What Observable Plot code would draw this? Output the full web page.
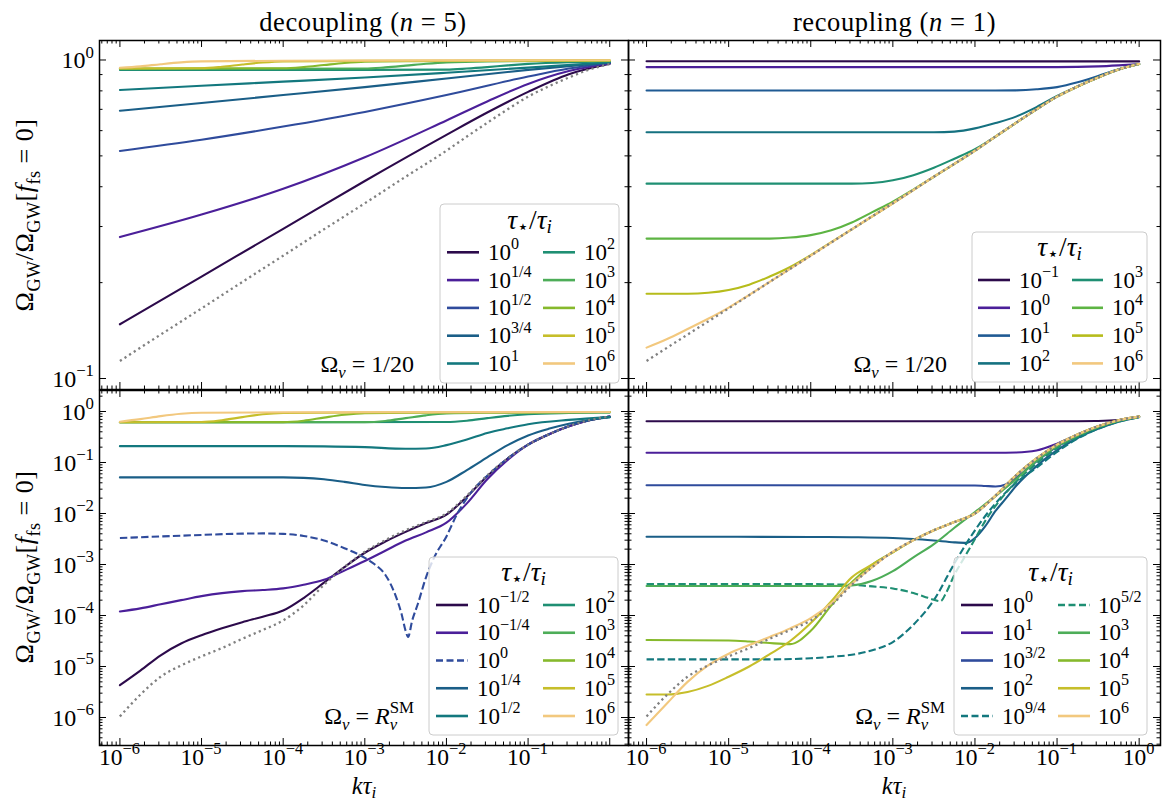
<!DOCTYPE html>
<html>
<head>
<meta charset="utf-8">
<script src="https://cdn.jsdelivr.net/npm/d3@7"></script>
<script src="https://cdn.jsdelivr.net/npm/@observablehq/plot@0.6"></script>
<style>
html, body { margin:0; padding:0; background:#fff; overflow:hidden; }
#wrap { position:relative; width:1163px; height:803px; background:#fff; }
#wrap > svg { position:absolute; left:0; top:0; }
</style>
</head>
<body>
<div id="wrap"></div>
<script>
// ================= DATA =================
// k tau_i  ->  Omega_GW / Omega_GW[f_fs = 0]
// ---- top row (Omega_nu = 1/20), dotted reference curve
const TOP_ref = [[1e-6,0.1135],[3.16e-6,0.1374],[1e-5,0.166],[3.16e-5,0.201],[1e-4,0.243],[3.16e-4,0.294],[1e-3,0.355],[3.16e-3,0.430],[1e-2,0.519],[1.78e-2,0.575],[3.16e-2,0.635],[5.62e-2,0.700],[0.1,0.767],[0.178,0.826],[0.316,0.881],[0.562,0.933],[1,0.971]];
// ---- top-left: decoupling
const TL_tau = ["0","1/4","1/2","3/4","1","2","3","4","5","6"];
const TL_0 = [[1e-6,0.148],[1e-5,0.209],[1e-4,0.295],[1e-3,0.417],[1e-2,0.582],[3.16e-2,0.684],[0.1,0.794],[0.316,0.902],[1,0.973]];
const TL_1 = [[1e-6,0.278],[1e-5,0.327],[1e-4,0.394],[1e-3,0.495],[1e-2,0.646],[3.16e-2,0.741],[0.1,0.841],[0.316,0.923],[1,0.975]];
const TL_2 = [[1e-6,0.518],[1e-5,0.562],[1e-4,0.618],[1e-3,0.687],[1e-2,0.776],[0.1,0.887],[0.316,0.940],[1,0.979]];
const TL_3 = [[1e-6,0.693],[1e-5,0.733],[1e-4,0.776],[1e-3,0.822],[1e-2,0.875],[0.1,0.931],[1,0.982]];
const TL_4 = [[1e-6,0.805],[1e-5,0.830],[1e-4,0.855],[1e-3,0.881],[1e-2,0.912],[0.1,0.946],[1,0.984]];
const TL_5 = [[1e-6,0.930],[1e-3,0.931],[1e-2,0.933],[1.78e-2,0.940],[3.16e-2,0.950],[5.62e-2,0.962],[0.1,0.972],[0.316,0.984],[1,0.990]];
const TL_6 = [[1e-6,0.937],[1e-3,0.940],[1.78e-3,0.948],[3.16e-3,0.960],[5.62e-3,0.973],[1e-2,0.983],[3.16e-2,0.990],[1,0.994]];
const TL_7 = [[1e-6,0.940],[1e-4,0.942],[1.78e-4,0.950],[3.16e-4,0.964],[5.62e-4,0.978],[1e-3,0.987],[3.16e-3,0.991],[1,0.995]];
const TL_8 = [[1e-6,0.940],[1e-5,0.942],[1.78e-5,0.952],[3.16e-5,0.968],[5.62e-5,0.982],[1e-4,0.990],[1e-3,0.994],[1,0.997]];
const TL_9 = [[1e-6,0.945],[1.78e-6,0.955],[3.16e-6,0.970],[5.62e-6,0.983],[1e-5,0.990],[1e-4,0.995],[1e-2,0.997],[1,0.998]];
// ---- top-right: recoupling
const TR_tau = ["-1","0","1","2","3","4","5","6"];
const TR_0 = [[1e-6,0.991],[1,0.990]];
const TR_1 = [[1e-6,0.950],[0.1,0.950],[0.316,0.955],[0.562,0.962],[1,0.971]];
const TR_2 = [[1e-6,0.802],[1.78e-2,0.802],[3.16e-2,0.803],[5.62e-2,0.809],[0.1,0.822],[0.178,0.851],[0.316,0.891],[0.562,0.935],[1,0.971]];
const TR_3 = [[1e-6,0.593],[3.16e-3,0.593],[5.62e-3,0.596],[1e-2,0.610],[1.78e-2,0.634],[3.16e-2,0.664],[5.62e-2,0.711],[0.1,0.771]];
const TR_4 = [[1e-6,0.409],[3.16e-4,0.409],[5.62e-4,0.411],[1e-3,0.419],[1.78e-3,0.435],[3.16e-3,0.459],[5.62e-3,0.490],[1e-2,0.525]];
const TR_5 = [[1e-6,0.275],[3.16e-5,0.275],[5.62e-5,0.277],[1e-4,0.282],[1.78e-4,0.292],[3.16e-4,0.309],[5.62e-4,0.333],[1e-3,0.359],[1.78e-3,0.392]];
const TR_6 = [[1e-6,0.1845],[3.16e-6,0.1845],[5.62e-6,0.1858],[1e-5,0.1897],[1.78e-5,0.197],[3.16e-5,0.209],[5.62e-5,0.224],[1e-4,0.244],[1.78e-4,0.268]];
const TR_7 = [[1e-6,0.125],[1.78e-6,0.133],[3.16e-6,0.143],[5.62e-6,0.154],[1e-5,0.167],[1.78e-5,0.183]];
// ---- bottom row (Omega_nu = R_nu^SM), dotted reference curve
const BOT_ref = [[1e-6,1.05e-6],[1.78e-6,2.8e-6],[3.16e-6,6.3e-6],[5.62e-6,1.05e-5],[1e-5,1.58e-5],[1.78e-5,2.3e-5],[3.16e-5,3.5e-5],[5.62e-5,5.2e-5],[1e-4,8.0e-5],[1.78e-4,1.58e-4],[3.16e-4,3.98e-4],[5.62e-4,8.9e-4],[1e-3,1.78e-3],[1.78e-3,3.0e-3],[3.16e-3,4.7e-3],[5.62e-3,6.8e-3],[1e-2,1.0e-2],[1.78e-2,2.24e-2],[3.16e-2,5.6e-2],[5.62e-2,0.12],[0.1,0.224],[0.178,0.355],[0.316,0.513],[0.562,0.676],[1,0.794]];
// ---- bottom-left: decoupling
const BL_tau = ["-1/2","-1/4","0","1/4","1/2","2","3","4","5","6"];
const BL_0 = [[1e-6,4.3e-6],[1.78e-6,8.3e-6],[3.16e-6,1.66e-5],[5.62e-6,2.82e-5],[1e-5,4.1e-5],[1.78e-5,5.6e-5],[3.16e-5,7.4e-5],[5.62e-5,9.5e-5],[1e-4,1.25e-4],[1.78e-4,2.2e-4],[3.16e-4,4.4e-4],[5.62e-4,8.9e-4],[1e-3,1.7e-3],[1.78e-3,2.82e-3],[3.16e-3,4.37e-3],[5.62e-3,6.5e-3],[1e-2,9.5e-3],[1.78e-2,2.14e-2],[3.16e-2,5.4e-2]];
const BL_1 = [[1e-6,1.2e-4],[1.78e-6,1.38e-4],[3.16e-6,1.66e-4],[5.62e-6,2.0e-4],[1e-5,2.4e-4],[1.78e-5,2.75e-4],[3.16e-5,3.0e-4],[5.62e-5,3.16e-4],[1e-4,3.4e-4],[1.78e-4,4.0e-4],[3.16e-4,5.0e-4],[5.62e-4,7.6e-4],[1e-3,1.17e-3],[1.78e-3,1.86e-3],[3.16e-3,2.95e-3],[5.62e-3,4.27e-3],[1e-2,6.6e-3],[1.78e-2,1.58e-2],[3.16e-2,4.7e-2],[5.62e-2,0.112]];
const BL_2 = [[1e-6,3.31e-3],[3.16e-6,3.55e-3],[1e-5,3.8e-3],[3.16e-5,4.03e-3],[5.62e-5,4.07e-3],[1e-4,3.98e-3],[1.78e-4,3.63e-3],[3.16e-4,2.95e-3],[5.62e-4,2.09e-3],[1e-3,1.35e-3],[1.33e-3,1.0e-3],[1.78e-3,6.3e-4],[2.37e-3,2.5e-4],[2.82e-3,1.07e-4],[3.16e-3,5.0e-5],[3.39e-3,3.8e-5],[3.8e-3,7.9e-5],[4.47e-3,1.7e-4],[5.62e-3,5.6e-4],[7.08e-3,1.38e-3],[1e-2,3.55e-3],[1.33e-2,9.3e-3],[1.78e-2,2.0e-2],[2.37e-2,3.55e-2],[3.16e-2,5.5e-2]];
const BL_3 = [[1e-6,5.1e-2],[1e-4,5.1e-2],[1.78e-4,5.0e-2],[3.16e-4,4.68e-2],[5.62e-4,4.17e-2],[1e-3,3.63e-2],[1.78e-3,3.31e-2],[3.16e-3,3.16e-2],[5.62e-3,3.24e-2],[1e-2,4.17e-2],[1.78e-2,7.1e-2],[3.16e-2,0.126],[5.62e-2,0.219],[0.1,0.339],[0.178,0.457],[0.316,0.575],[0.562,0.684],[1,0.776]];
const BL_4 = [[1e-6,0.209],[1e-4,0.209],[3.16e-4,0.207],[1e-3,0.200],[3.16e-3,0.186],[5.62e-3,0.188],[1e-2,0.219],[1.78e-2,0.282],[3.16e-2,0.380],[5.62e-2,0.468],[0.1,0.562],[0.316,0.684],[1,0.776]];
const BL_5 = [[1e-6,0.617],[1e-2,0.624],[1.78e-2,0.661],[3.16e-2,0.741],[5.62e-2,0.822],[0.1,0.881],[0.316,0.933],[1,0.959]];
const BL_6 = [[1e-6,0.617],[1e-3,0.619],[1.78e-3,0.653],[3.16e-3,0.741],[5.62e-3,0.841],[1e-2,0.912],[3.16e-2,0.944],[1,0.968]];
const BL_7 = [[1e-6,0.617],[1e-4,0.619],[1.78e-4,0.661],[3.16e-4,0.759],[5.62e-4,0.861],[1e-3,0.923],[1e-2,0.955],[1,0.973]];
const BL_8 = [[1e-6,0.617],[1e-5,0.624],[1.78e-5,0.676],[3.16e-5,0.776],[5.62e-5,0.881],[1e-4,0.933],[1e-3,0.959],[1,0.977]];
const BL_9 = [[1e-6,0.631],[1.78e-6,0.708],[3.16e-6,0.813],[5.62e-6,0.902],[1e-5,0.944],[1e-4,0.966],[1,0.977]];
// ---- bottom-right: recoupling
const BR_tau = ["0","1","3/2","2","9/4","5/2","3","4","5","6"];
const BR_0 = [[1e-6,0.646],[0.178,0.646],[0.316,0.651],[0.562,0.680],[1,0.790]];
const BR_1 = [[1e-6,0.155],[1.78e-2,0.155],[3.16e-2,0.157],[5.62e-2,0.172],[0.1,0.234],[0.178,0.355],[0.316,0.513],[0.562,0.676],[1,0.794]];
const BR_2 = [[1e-6,3.59e-2],[1e-2,3.55e-2],[1.33e-2,3.47e-2],[1.78e-2,3.39e-2],[2.37e-2,3.72e-2],[3.16e-2,5.0e-2],[5.62e-2,0.105],[0.1,0.204],[0.178,0.331],[0.316,0.490],[0.562,0.661],[1,0.785]];
const BR_3 = [[1e-6,3.51e-3],[1e-4,3.47e-3],[3.16e-4,3.43e-3],[1e-3,3.31e-3],[1.78e-3,3.16e-3],[3.16e-3,2.95e-3],[5.62e-3,2.72e-3],[7.94e-3,2.66e-3],[1e-2,3.3e-3],[1.33e-2,5.6e-3],[1.78e-2,1.12e-2],[2.37e-2,1.95e-2],[3.16e-2,3.47e-2],[5.62e-2,8.5e-2],[0.1,0.174],[0.178,0.302],[0.316,0.457],[0.562,0.631],[1,0.775]];
const BR_4 = [[1e-6,1.38e-5],[3.16e-5,1.38e-5],[1e-4,1.45e-5],[1.78e-4,1.55e-5],[3.16e-4,1.7e-5],[5.62e-4,2.09e-5],[1e-3,3.02e-5],[1.78e-3,6.6e-5],[3.16e-3,2.0e-4],[5.62e-3,1.05e-3],[1e-2,4.68e-3],[1.78e-2,1.58e-2],[3.16e-2,3.98e-2],[5.62e-2,7.9e-2],[0.1,0.162],[0.178,0.295],[0.316,0.457],[0.562,0.631],[1,0.775]];
const BR_5 = [[1e-6,4.12e-4],[1e-4,4.12e-4],[3.16e-4,3.98e-4],[5.62e-4,3.72e-4],[1e-3,3.39e-4],[1.78e-3,2.75e-4],[2.51e-3,2.29e-4],[3.16e-3,2.04e-4],[3.8e-3,1.91e-4],[4.47e-3,2.82e-4],[5.62e-3,6.3e-4],[7.5e-3,1.41e-3],[1e-2,3.16e-3],[1.33e-2,7.1e-3],[1.78e-2,1.41e-2],[2.37e-2,2.51e-2],[3.16e-2,4.17e-2],[5.62e-2,9.5e-2],[0.1,0.191],[0.178,0.316],[0.316,0.479],[0.562,0.646],[1,0.780]];
const BR_6 = [[1e-6,3.8e-4],[1.78e-4,3.8e-4],[3.16e-4,3.89e-4],[5.62e-4,4.79e-4],[1e-3,7.4e-4],[1.78e-3,1.38e-3],[3.16e-3,2.51e-3],[5.62e-3,5.25e-3],[1e-2,1.07e-2],[1.78e-2,2.19e-2],[3.16e-2,4.68e-2],[5.62e-2,0.107],[0.1,0.209],[0.178,0.339],[0.316,0.495],[0.562,0.661],[1,0.785]];
const BR_7 = [[1e-6,3.31e-5],[1e-5,3.24e-5],[1.78e-5,3.09e-5],[3.16e-5,2.88e-5],[5.62e-5,2.75e-5],[1e-4,5.0e-5],[1.78e-4,1.58e-4],[3.16e-4,4.47e-4],[5.62e-4,1.0e-3],[1e-3,1.74e-3]];
const BR_8 = [[1e-6,2.82e-6],[1.78e-6,2.82e-6],[3.16e-6,3.16e-6],[5.62e-6,4.17e-6],[1e-5,6.3e-6],[1.78e-5,1.0e-5],[3.16e-5,1.74e-5],[5.62e-5,3.16e-5],[1e-4,7.1e-5],[1.78e-4,1.9e-4],[3.16e-4,5.6e-4],[5.62e-4,1.0e-3],[1e-3,1.74e-3]];
const BR_9 = [[1e-6,7.1e-7],[1.78e-6,1.9e-6],[3.16e-6,5.0e-6],[5.62e-6,1.05e-5],[1e-5,1.78e-5],[1.78e-5,2.63e-5],[3.16e-5,3.8e-5],[5.62e-5,5.6e-5],[1e-4,8.9e-5],[1.78e-4,1.74e-4],[3.16e-4,4.17e-4]];

// curves that join the dotted reference continue along it
const tail = (ref, k) => ref.filter(d => d[0] >= k * 0.999);
const TL_pts = [TL_0,TL_1,TL_2,TL_3,TL_4,TL_5,TL_6,TL_7,TL_8,TL_9];
const TR_pts = [TR_0,TR_1,TR_2,
  TR_3.concat(tail(TOP_ref,0.178)), TR_4.concat(tail(TOP_ref,1.78e-2)),
  TR_5.concat(tail(TOP_ref,3.16e-3)), TR_6.concat(tail(TOP_ref,3.16e-4)),
  TR_7.concat(tail(TOP_ref,3.16e-5))];
const BL_pts = [BL_0.concat(tail(BOT_ref,5.62e-2)), BL_1.concat(tail(BOT_ref,0.1)),
  BL_2.concat(tail(BOT_ref,5.62e-2)), BL_3,BL_4,BL_5,BL_6,BL_7,BL_8,BL_9];
const BR_pts = [BR_0,BR_1,BR_2,BR_3,BR_4,BR_5,BR_6,
  BR_7.concat(tail(BOT_ref,1.78e-3)), BR_8.concat(tail(BOT_ref,1.78e-3)),
  BR_9.concat(tail(BOT_ref,5.62e-4))];

// ================= STYLES =================
const P0="#2c0a4b", P1="#4b1f99", BLU="#2f4b9c", TB="#1a5e87", TEA="#13787e", GT="#1f8f73",
      GRN="#4dad58", YG="#86b92c", OLV="#c6be2a", TAN="#f2c87e";
const TL_col = [P0,P1,BLU,TB,TEA,GT,GRN,YG,OLV,TAN];
const TR_col = [P0,P1,"#1f5a93","#157180",GT,"#5db443","#b6bc1b",TAN];
const BL_col = [P0,P1,BLU,TB,TEA,GT,GRN,YG,OLV,TAN];
const BR_col = [P0,P1,BLU,TB,TEA,GT,GRN,YG,OLV,TAN];
const TL_dash = TL_col.map(() => false);
const TR_dash = TR_col.map(() => false);
const BL_dash = [false,false,true,false,false,false,false,false,false,false];
const BR_dash = [false,false,false,false,true,true,false,false,false,false];

const FONT = "'Liberation Serif','DejaVu Serif',serif";
const W = 1163, H = 803;

// rich-text parts: "i" italic, "b" subscript, "p" superscript, "S" stacked over previous
const NOTE_TOP = [["Ω",""],["ν","bi"],[" = 1/20",""]];
const NOTE_BOT = [["Ω",""],["ν","bi"],[" = ",""],["R","i"],["ν","bi"],["SM","pS"]];
const YLAB = [["Ω",""],["GW","b"],["/Ω",""],["GW","b"],["[",""],["f","i"],["fs","b"],[" = 0]",""]];
const XLAB = [["k","i"],["τ","i"],["i","bi"]];
const LEG_TITLE = [["τ","i"],["⋆","b"],["/",""],["τ","i"],["i","bi"]];

const panels = [
  {frame:[99,40,628,389], xd:[-6.25,0.23], yd:[-1.0345,0.0612], ref:TOP_ref, pts:TL_pts, tau:TL_tau, col:TL_col, dash:TL_dash,
   yLab:true, xLab:null, note:{x:414,y:372,parts:NOTE_TOP},
   leg:{box:[440,204,619,383], ty:229, r0:252.3, rs:27.8, cols:[[447,479,488],[543,575,584]]}},
  {frame:[628,40,1160,389], xd:[-6.22,0.26], yd:[-1.0345,0.0612], ref:TOP_ref, pts:TR_pts, tau:TR_tau, col:TR_col, dash:TR_dash,
   yLab:false, xLab:null, note:{x:947,y:372,parts:NOTE_TOP},
   leg:{box:[972,232,1147,382], ty:256, r0:280, rs:27.8, cols:[[978,1010,1019],[1072,1103,1112]]}},
  {frame:[99,390,628,745], xd:[-6.25,0.23], yd:[-6.549,0.4118], ref:BOT_ref, pts:BL_pts, tau:BL_tau, col:BL_col, dash:BL_dash,
   yLab:true, xLab:[-6,-1], note:{x:414,y:724,parts:NOTE_BOT},
   leg:{box:[429,557,618,735], ty:581, r0:605, rs:27.75, cols:[[436,468,477],[543,575,584]]}},
  {frame:[628,390,1160,745], xd:[-6.22,0.26], yd:[-6.549,0.4118], ref:BOT_ref, pts:BR_pts, tau:BR_tau, col:BR_col, dash:BR_dash,
   yLab:false, xLab:[-6,0], note:{x:945,y:724,parts:NOTE_BOT},
   leg:{box:[954,557,1147,735], ty:581, r0:605, rs:27.75, cols:[[961,993,1002],[1058,1090,1098]]}}
];

function majorTicks(lo, hi) { const o=[]; for (let e=Math.ceil(lo); e<=Math.floor(hi); e++) o.push(10**e); return o; }
function minorTicks(lo, hi) { const o=[]; for (let e=Math.floor(lo)-1; e<=Math.ceil(hi); e++) for (let m=2;m<=9;m++){ const v=m*10**e, l=Math.log10(v); if (l>lo && l<hi) o.push(v);} return o; }

const wrap = document.getElementById("wrap");

function makePanel(P) {
  const [x0,y0,x1,y1] = P.frame, fw = x1-x0, fh = y1-y0;
  const marks = [];
  P.pts.forEach((pts, i) => marks.push(Plot.line(pts, {
    x: d => d[0], y: d => d[1], stroke: P.col[i], strokeWidth: 2.1,
    strokeDasharray: P.dash[i] ? "7.4,3.2" : undefined, strokeLinecap: P.dash[i] ? "butt" : "round",
    curve: "monotone-x", clip: true})));
  marks.push(Plot.line(P.ref, {x: d => d[0], y: d => d[1], stroke: "#808080", strokeWidth: 2.3,
    strokeDasharray: "2.2,3.3", strokeLinecap: "butt", curve: "monotone-x", clip: true}));
  const xM = majorTicks(...P.xd), xm = minorTicks(...P.xd), yM = majorTicks(...P.yd), ym = minorTicks(...P.yd);
  const tk = {stroke: "black", strokeWidth: 1};
  marks.push(
    Plot.tickX(xM, {x: d => d, ...tk, insetTop: fh - 7}),
    Plot.tickX(xM, {x: d => d, ...tk, insetBottom: fh - 7}),
    Plot.tickX(xm, {x: d => d, ...tk, insetTop: fh - 3.5}),
    Plot.tickX(xm, {x: d => d, ...tk, insetBottom: fh - 3.5}),
    Plot.tickY(yM, {y: d => d, ...tk, insetRight: fw - 7}),
    Plot.tickY(yM, {y: d => d, ...tk, insetLeft: fw - 7}),
    Plot.tickY(ym, {y: d => d, ...tk, insetRight: fw - 3.5}),
    Plot.tickY(ym, {y: d => d, ...tk, insetLeft: fw - 3.5}),
    Plot.frame({stroke: "black", strokeWidth: 1.5})
  );
  const plot = Plot.plot({
    width: W, height: H, marginLeft: x0, marginRight: W - x1, marginTop: y0, marginBottom: H - y1,
    x: {type: "log", domain: [10**P.xd[0], 10**P.xd[1]], axis: null},
    y: {type: "log", domain: [10**P.yd[0], 10**P.yd[1]], axis: null},
    style: "background:transparent;overflow:visible;",
    marks
  });
  wrap.appendChild(plot);
  return plot;
}

const plots = panels.map(makePanel);

// ---------- overlay for text ----------
const ov = d3.select(wrap).append("svg").attr("width", W).attr("height", H)
  .attr("font-family", FONT).attr("fill", "black")
  .style("position", "absolute").style("left", "0px").style("top", "0px");

function rich(sel, parts, size, subDrop = 0.25) {
  let cur = 0, prev = null;
  for (const [t, s] of parts) {
    const sub = s.includes("b"), sup = s.includes("p");
    const target = sub ? subDrop * size : sup ? -0.45 * size : 0;
    const ts = sel.append("tspan").text(t);
    if (target !== cur) ts.attr("dy", (target - cur).toFixed(2));
    cur = target;
    if (sub || sup) ts.attr("font-size", (0.7 * size).toFixed(1));
    if (s.includes("i")) ts.attr("font-style", "italic");
    if (s.includes("S") && prev) ts.attr("dx", (-prev.node().getComputedTextLength()).toFixed(2));
    prev = ts;
  }
}
const expStr = e => String(e).replace("-", "−");

panels.forEach((P, pi) => {
  const plot = plots[pi], sx = plot.scale("x"), sy = plot.scale("y");
  if (P.yLab) {
    majorTicks(...P.yd).forEach(v => {
      const t = ov.append("text").attr("x", 94).attr("y", sy.apply(v) + 9).attr("text-anchor", "end").attr("font-size", 24);
      rich(t, [["10",""],[expStr(Math.round(Math.log10(v))),"p"]], 24);
    });
  }
  if (P.xLab) {
    for (let e = P.xLab[0]; e <= P.xLab[1]; e++) {
      const t = ov.append("text").attr("x", sx.apply(10**e)).attr("y", 765).attr("text-anchor", "middle").attr("font-size", 23.5);
      rich(t, [["10",""],[expStr(e),"p"]], 23.5);
    }
  }
  // annotation
  const nt = ov.append("text").attr("x", P.note.x).attr("y", P.note.y).attr("text-anchor", "end").attr("font-size", 24);
  rich(nt, P.note.parts, 24);
  // legend
  const L = P.leg, g = ov.append("g");
  const [bx0,by0,bx1,by1] = L.box;
  g.append("rect").attr("x", bx0).attr("y", by0).attr("width", bx1 - bx0).attr("height", by1 - by0)
    .attr("rx", 4).attr("fill", "white").attr("fill-opacity", 0.8).attr("stroke", "#cccccc").attr("stroke-width", 1);
  const tt = g.append("text").attr("x", (bx0 + bx1) / 2).attr("y", L.ty).attr("text-anchor", "middle").attr("font-size", 27.5);
  rich(tt, LEG_TITLE, 27.5, 0.16);
  const per = Math.ceil(P.tau.length / 2);
  P.tau.forEach((lab, i) => {
    const c = Math.floor(i / per), r = i % per, [lx0, lx1, tx] = L.cols[c], y = L.r0 + r * L.rs;
    g.append("line").attr("x1", lx0).attr("x2", lx1).attr("y1", y).attr("y2", y)
      .attr("stroke", P.col[i]).attr("stroke-width", 2.6).attr("stroke-dasharray", P.dash[i] ? "7,3.5" : null);
    const t = g.append("text").attr("x", tx).attr("y", y + 7.5).attr("font-size", 23);
    rich(t, [["10",""],[lab.replace("-", "−"),"p"]], 23);
  });
});

// titles and axis labels
[["decoupling (", 363], ["recoupling (", 894.5]].forEach(([s, x], i) => {
  const t = ov.append("text").attr("x", x).attr("y", 31).attr("text-anchor", "middle").attr("font-size", 26.5).attr("letter-spacing", 0.6);
  rich(t, [[s,""],["n","i"],[i === 0 ? " = 5)" : " = 1)",""]], 26.5);
});
[364, 894].forEach(x => {
  const t = ov.append("text").attr("x", x).attr("y", 794).attr("text-anchor", "middle").attr("font-size", 24.5);
  rich(t, XLAB, 24.5, 0.15);
});
[215, 567].forEach(y => {
  const t = ov.append("text").attr("transform", `translate(33,${y}) rotate(-90)`).attr("text-anchor", "middle")
    .attr("font-size", 26).attr("letter-spacing", 0.5);
  rich(t, YLAB, 26);
});
</script>
</body>
</html>
